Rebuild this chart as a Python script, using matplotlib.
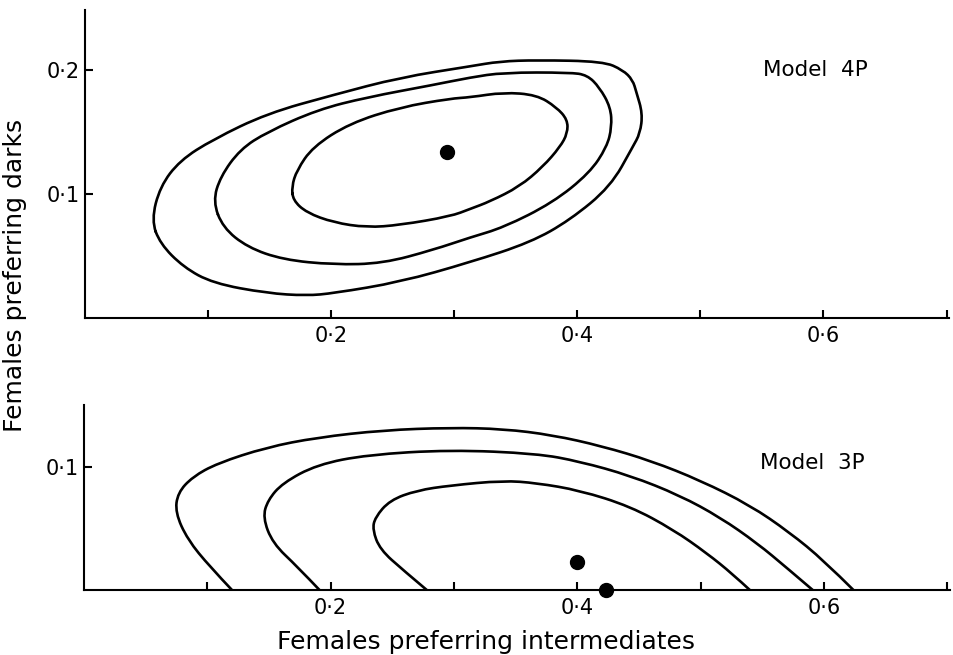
import matplotlib
matplotlib.use("Agg")
import matplotlib.pyplot as plt
from matplotlib.path import Path
from matplotlib.patches import PathPatch

# ---------------- data ----------------
# Model 4P: three nested closed contours + best estimate
top_outer_x = [0.054, 0.061, 0.077, 0.104, 0.148, 0.202, 0.256, 0.313, 0.337, 0.367, 0.421, 0.437,
               0.445, 0.448, 0.453, 0.451, 0.445, 0.427, 0.394, 0.362, 0.313, 0.256, 0.202, 0.180,
               0.148, 0.104, 0.080, 0.061]
top_outer_y = [0.079, 0.106, 0.127, 0.144, 0.165, 0.180, 0.194, 0.203, 0.207, 0.208, 0.207, 0.200,
               0.192, 0.182, 0.165, 0.149, 0.138, 0.106, 0.079, 0.061, 0.045, 0.029, 0.020, 0.018,
               0.020, 0.028, 0.041, 0.060]

top_mid_x = [0.104, 0.110, 0.126, 0.148, 0.189, 0.229, 0.283, 0.313, 0.340, 0.394, 0.408, 0.418,
             0.427, 0.428, 0.424, 0.410, 0.380, 0.340, 0.313, 0.283, 0.242, 0.202, 0.161, 0.132,
             0.112]
top_mid_y = [0.094, 0.114, 0.136, 0.150, 0.168, 0.178, 0.188, 0.194, 0.198, 0.198, 0.196, 0.186,
             0.170, 0.154, 0.138, 0.117, 0.093, 0.073, 0.065, 0.055, 0.044, 0.043, 0.047, 0.057,
             0.073]

top_inner_x = [0.168, 0.172, 0.185, 0.215, 0.256, 0.297, 0.313, 0.340, 0.367, 0.383, 0.392, 0.392,
               0.386, 0.372, 0.353, 0.329, 0.313, 0.297, 0.256, 0.229, 0.202, 0.180, 0.169]
top_inner_y = [0.106, 0.119, 0.138, 0.157, 0.170, 0.177, 0.178, 0.182, 0.180, 0.170, 0.160, 0.149,
               0.138, 0.122, 0.106, 0.094, 0.088, 0.082, 0.075, 0.073, 0.077, 0.085, 0.095]

top_point_x = [0.294]
top_point_y = [0.134]

# Model 3P: three nested contours cut by the x axis + estimates
bot_outer_x = [0.120, 0.102, 0.084, 0.074, 0.076, 0.088, 0.108, 0.148, 0.189, 0.243, 0.297, 0.340,
               0.380, 0.420, 0.460, 0.500, 0.540, 0.572, 0.600, 0.624]
bot_outer_y = [0.000, 0.019, 0.041, 0.063, 0.079, 0.092, 0.103, 0.116, 0.124, 0.130, 0.132, 0.131,
               0.126, 0.117, 0.105, 0.089, 0.069, 0.047, 0.024, 0.000]

bot_mid_x = [0.191, 0.173, 0.153, 0.145, 0.149, 0.161, 0.189, 0.230, 0.297, 0.367, 0.402, 0.443,
             0.483, 0.516, 0.546, 0.570, 0.591]
bot_mid_y = [0.000, 0.019, 0.038, 0.059, 0.073, 0.087, 0.102, 0.110, 0.114, 0.111, 0.1045, 0.093,
             0.077, 0.059, 0.038, 0.018, 0.000]

bot_inner_x = [0.278, 0.259, 0.240, 0.234, 0.236, 0.248, 0.270, 0.297, 0.340, 0.367, 0.402, 0.443,
               0.478, 0.505, 0.526, 0.540]
bot_inner_y = [0.000, 0.016, 0.033, 0.049, 0.059, 0.073, 0.081, 0.085, 0.089, 0.087, 0.081, 0.068,
               0.049, 0.030, 0.013, 0.000]

bot_point_x = [0.400, 0.4235]
bot_point_y = [0.023, 0.000]

x_ticks = [0.1, 0.2, 0.3, 0.4, 0.5, 0.6, 0.7]
x_ticklabels = ["", "0·2", "", "0·4", "", "0·6", ""]
top_yticks = [0.1, 0.2]
top_yticklabels = ["0·1", "0·2"]
bot_yticks = [0.1]
bot_yticklabels = ["0·1"]

top_title = "Model  4P"
bot_title = "Model  3P"
xlabel = "Females preferring intermediates"
ylabel = "Females preferring darks"


def smooth_path(xs, ys, closed):
    """Quadratic B-spline path using the read points as control points."""
    pts = list(zip(xs, ys))
    n = len(pts)
    mid = lambda a, b: ((a[0] + b[0]) / 2.0, (a[1] + b[1]) / 2.0)
    verts, codes = [], []
    if closed:
        verts.append(mid(pts[-1], pts[0]))
        codes.append(Path.MOVETO)
        for i in range(n):
            verts += [pts[i], mid(pts[i], pts[(i + 1) % n])]
            codes += [Path.CURVE3, Path.CURVE3]
    else:
        verts.append(pts[0])
        codes.append(Path.MOVETO)
        for i in range(1, n - 1):
            end = pts[n - 1] if i == n - 2 else mid(pts[i], pts[i + 1])
            verts += [pts[i], end]
            codes += [Path.CURVE3, Path.CURVE3]
    return Path(verts, codes)


# ---------------- figure ----------------
plt.rcParams['font.family'] = ['DejaVu Sans']
fig = plt.figure(figsize=(9.54, 6.55), dpi=100)

ax1 = fig.add_axes([0.0891, 0.5145, 0.9057, 0.4702])
ax2 = fig.add_axes([0.0881, 0.0992, 0.9073, 0.2824])

LW = 1.9
for ax in (ax1, ax2):
    for s in ("top", "right"):
        ax.spines[s].set_visible(False)
    for s in ("left", "bottom"):
        ax.spines[s].set_linewidth(1.5)
    ax.set_xlim(0, 0.702)
    ax.set_xticks(x_ticks)
    ax.set_xticklabels(x_ticklabels, fontsize=15)
    ax.tick_params(axis="x", direction="in", length=6, width=1.5, pad=6)
    ax.tick_params(axis="y", direction="in", length=6, width=1.5, pad=4, labelsize=15)

ax1.set_ylim(0, 0.2484)
ax1.set_yticks(top_yticks)
ax1.set_yticklabels(top_yticklabels)
for xs, ys in ((top_outer_x, top_outer_y), (top_mid_x, top_mid_y), (top_inner_x, top_inner_y)):
    ax1.add_patch(PathPatch(smooth_path(xs, ys, True), fill=False, edgecolor="black",
                            lw=LW, joinstyle="round", capstyle="round"))
ax1.plot(top_point_x, top_point_y, "o", color="black", ms=10)
ax1.text(0.551, 0.200, top_title, fontsize=15.5, va="center", ha="left")

ax2.set_ylim(0, 0.1504)
ax2.set_yticks(bot_yticks)
ax2.set_yticklabels(bot_yticklabels)
for xs, ys in ((bot_outer_x, bot_outer_y), (bot_mid_x, bot_mid_y), (bot_inner_x, bot_inner_y)):
    ax2.add_patch(PathPatch(smooth_path(xs, ys, False), fill=False, edgecolor="black",
                            lw=LW, joinstyle="round", capstyle="butt"))
ax2.plot(bot_point_x, bot_point_y, "o", color="black", ms=10, clip_on=False, zorder=5)
ax2.text(0.548, 0.103, bot_title, fontsize=15.5, va="center", ha="left")

fig.text(0.509, 0.02, xlabel, fontsize=18, ha="center", va="center")
fig.text(0.016, 0.58, ylabel, fontsize=18, ha="center", va="center", rotation=90)

fig.savefig("out.png", dpi=100, facecolor="white")
